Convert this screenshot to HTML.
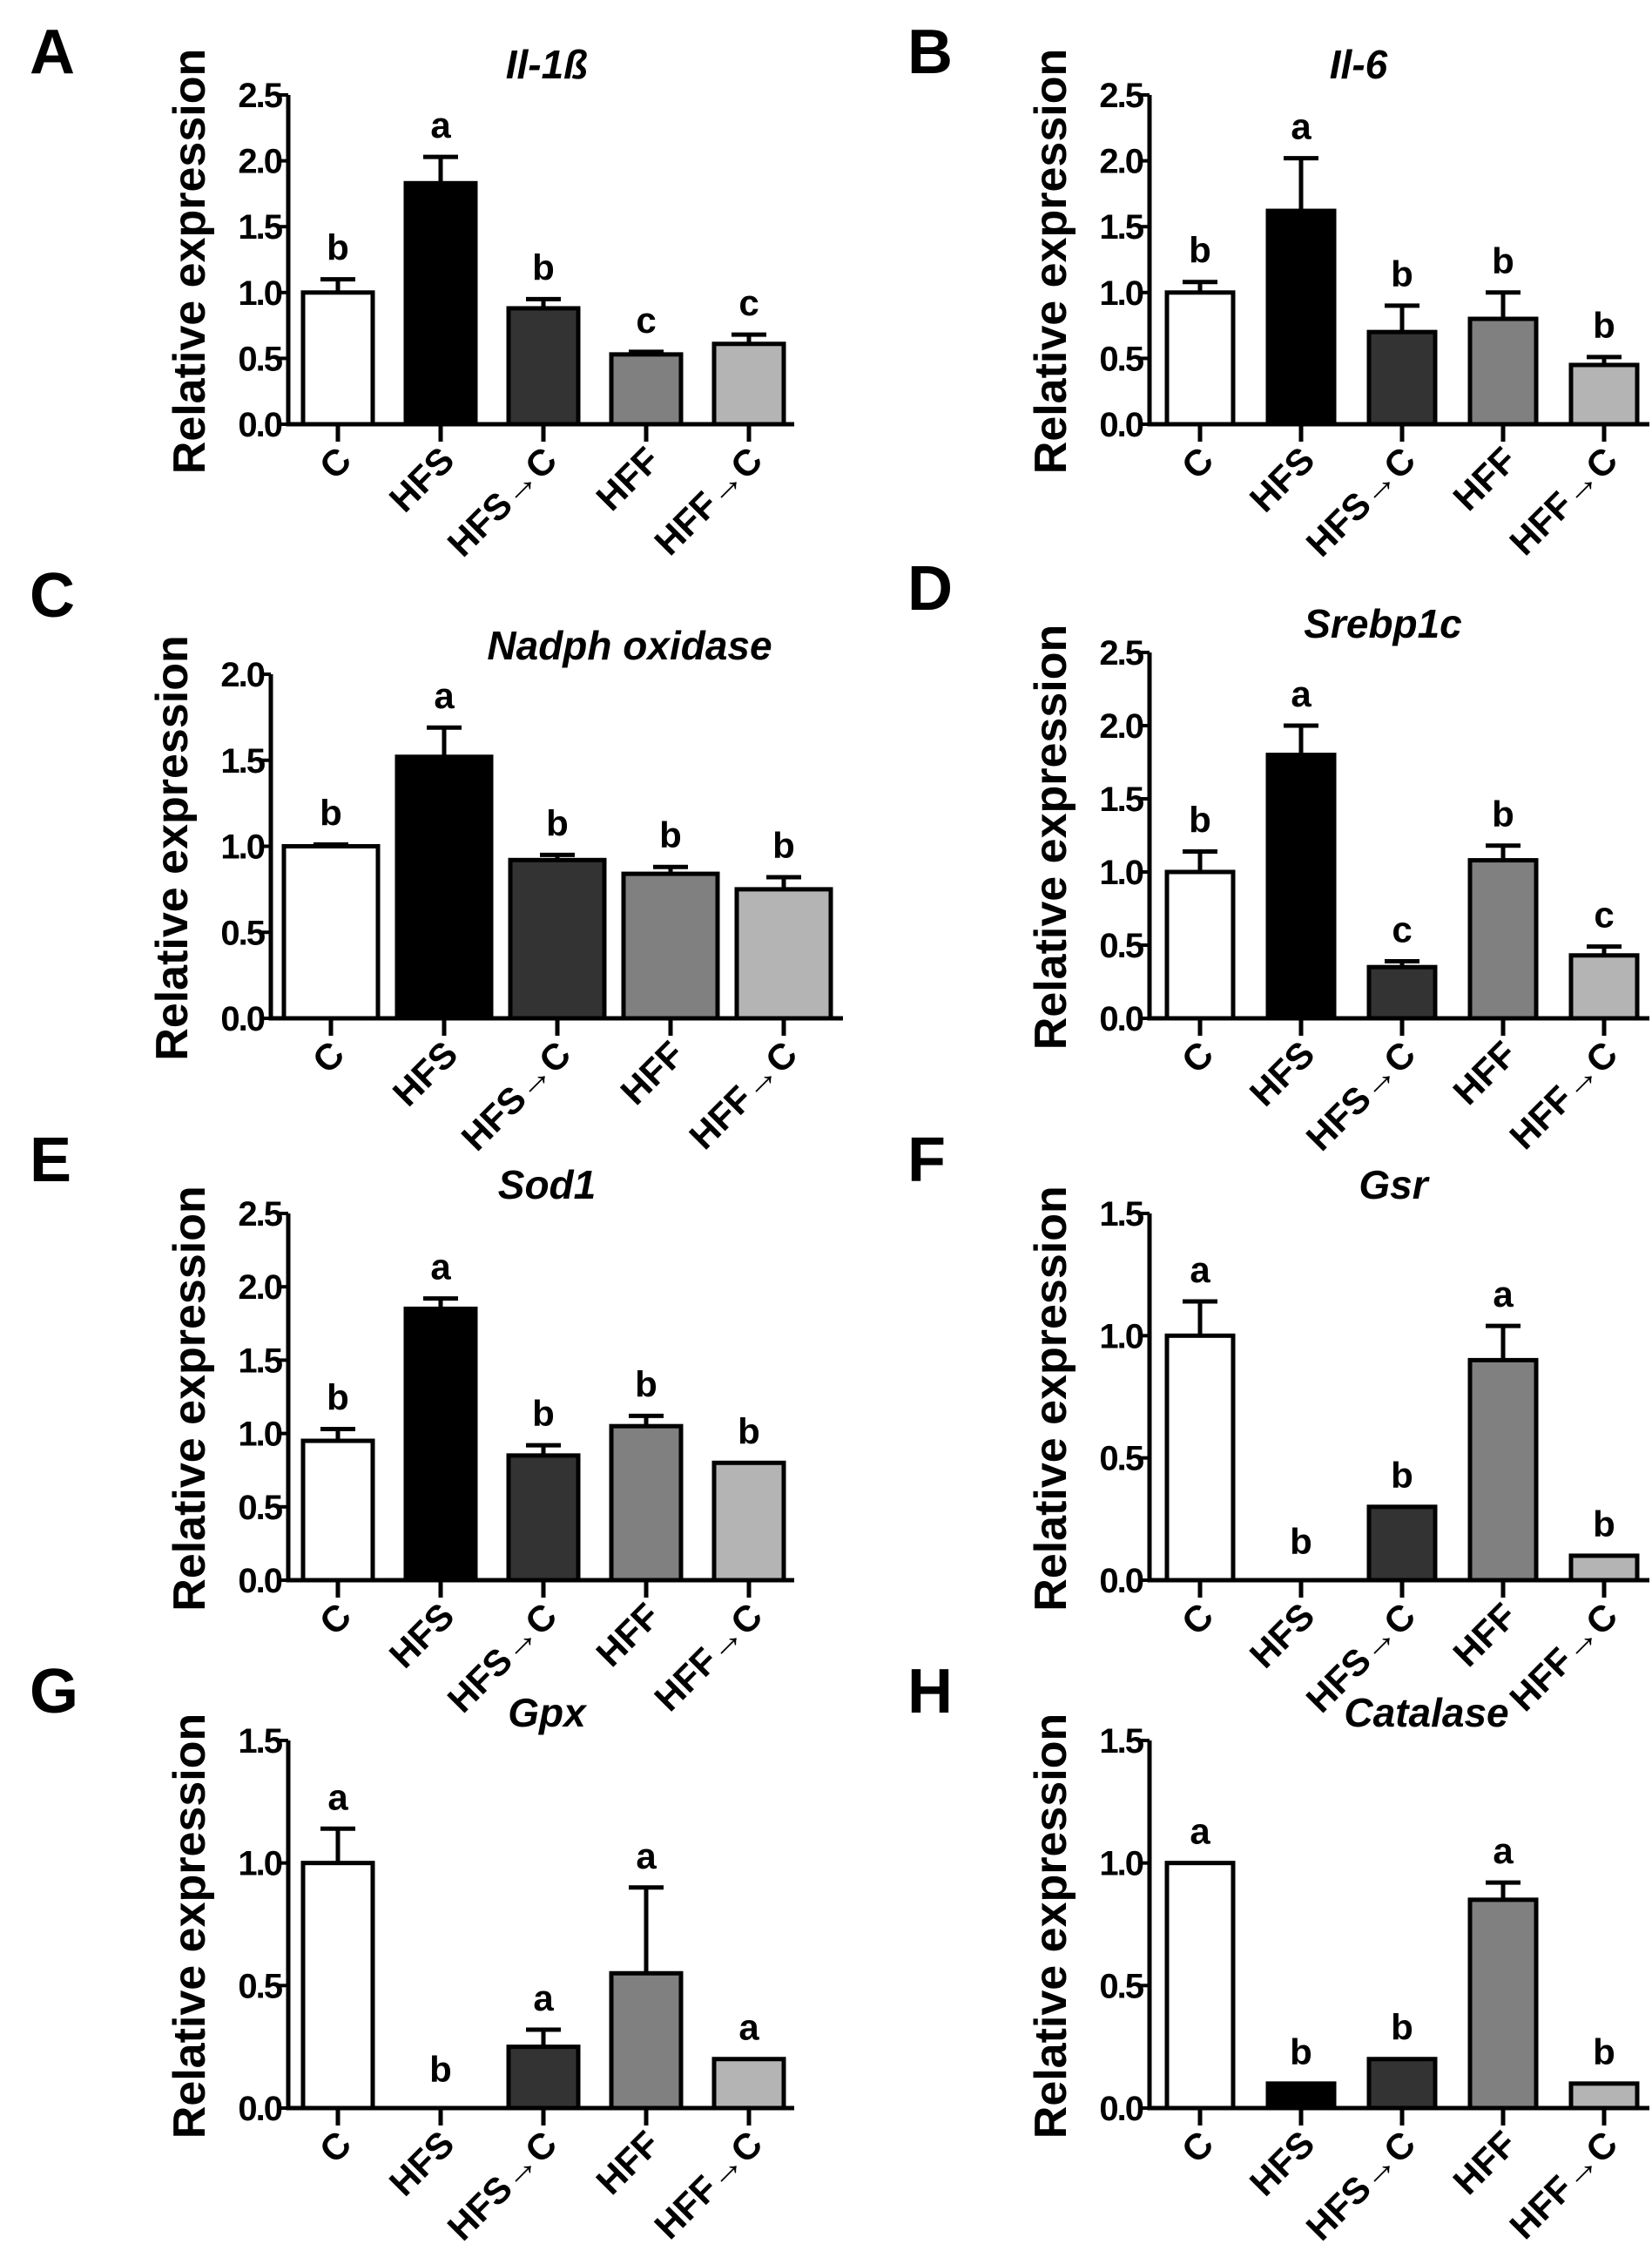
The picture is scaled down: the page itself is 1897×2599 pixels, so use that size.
<!DOCTYPE html>
<html><head><meta charset="utf-8"><style>
html,body{margin:0;padding:0;background:#fff}
svg{display:block}
text{font-family:"Liberation Sans",Arial,sans-serif;font-weight:bold;fill:#000}
</style></head><body>
<svg id="fig" width="1897" height="2599" viewBox="0 0 1897 2599" xmlns="http://www.w3.org/2000/svg"></svg>
<script>
const categories = ["C","HFS","HFS\u2192C","HFF","HFF\u2192C"];
const fills = ["#ffffff","#000000","#333333","#808080","#b4b4b4"];
const il1bValues = [1.0,1.83,0.88,0.53,0.61];
const il1bErr = [0.1,0.2,0.07,0.02,0.07];
const il1bLetters = ["b","a","b","c","c"];
const il6Values = [1.0,1.62,0.7,0.8,0.45];
const il6Err = [0.08,0.4,0.2,0.2,0.06];
const il6Letters = ["b","a","b","b","b"];
const nadphValues = [1.0,1.52,0.92,0.84,0.75];
const nadphErr = [0.01,0.17,0.03,0.04,0.07];
const nadphLetters = ["b","a","b","b","b"];
const srebpValues = [1.0,1.8,0.35,1.08,0.43];
const srebpErr = [0.14,0.2,0.04,0.1,0.06];
const srebpLetters = ["b","a","c","b","c"];
const sodValues = [0.95,1.85,0.85,1.05,0.8];
const sodErr = [0.08,0.07,0.07,0.07,0];
const sodLetters = ["b","a","b","b","b"];
const gsrValues = [1.0,0,0.3,0.9,0.1];
const gsrErr = [0.14,0,0,0.14,0];
const gsrLetters = ["a","b","b","a","b"];
const gpxValues = [1.0,0,0.25,0.55,0.2];
const gpxErr = [0.14,0,0.07,0.35,0];
const gpxLetters = ["a","b","a","a","a"];
const catValues = [1.0,0.1,0.2,0.85,0.1];
const catErr = [0,0,0,0.07,0];
const catLetters = ["a","b","b","a","b"];
const ticks25 = [0,0.5,1.0,1.5,2.0,2.5];
const ticks20 = [0,0.5,1.0,1.5,2.0];
const ticks15 = [0,0.5,1.0,1.5];

const NS="http://www.w3.org/2000/svg";
const svg=document.getElementById('fig');
function mk(tag,attrs,parent,txt){const e=document.createElementNS(NS,tag);for(const k in attrs)e.setAttribute(k,attrs[k]);if(txt!==undefined)e.textContent=txt;(parent||svg).appendChild(e);return e;}

function panel(o){
  const g=mk('g',{});
  
  
  const ymax=o.ticks[o.ticks.length-1];
  const y=v=>o.zero-(v/ymax)*(o.zero-o.top);
  const x=i=>o.first+i*o.pitch;
  const pl=mk('text',{x:o.lx,y:o.ly,'font-size':72},g,o.letter);
  
  
  const t=mk('text',{x:o.tx,y:o.ty,'font-size':46,'font-style':'italic','text-anchor':'middle'},g,o.title);
  
  
  const yl=mk('text',{x:0,y:0,'font-size':52,'text-anchor':'middle',transform:`translate(${o.ax-96},${(o.zero+o.top)/2+2}) rotate(-90)`},g,'Relative expression');
  
  
  o.values.forEach((v,i)=>{
    const cx=x(i);
    if(v>0){
      const b=mk('rect',{x:cx-o.bw/2,y:y(v),width:o.bw,height:o.zero-y(v),fill:fills[i],stroke:'#000','stroke-width':5},g);
      
      
    }
    const e=o.err[i];
    if(e>0){
      const eb=mk('path',{d:`M${cx},${y(v)} V${y(v+e)} M${cx-20},${y(v+e)} H${cx+20}`,stroke:'#000','stroke-width':5,fill:'none'},g);
      
      
    }
    const lt=mk('text',{x:cx,y:Math.min(y(v+e)-22,o.zero-30),'font-size':42,'text-anchor':'middle'},g,o.letters[i]);
    
    
    const tk=mk('line',{x1:cx,x2:cx,y1:o.zero,y2:o.zero+20,stroke:'#000','stroke-width':5},g);
    
    
    const xl=mk('text',{x:0,y:0,'font-size':42,'text-anchor':'end',transform:`translate(${cx+18},${o.zero+44}) rotate(-45)`},g,categories[i]);
    
    
  });
  const ya=mk('line',{x1:o.ax,x2:o.ax,y1:o.top,y2:o.zero+2.5,stroke:'#000','stroke-width':5},g);
  
  
  const xa=mk('line',{x1:o.ax-2.5,x2:o.right,y1:o.zero,y2:o.zero,stroke:'#000','stroke-width':5},g);
  
  
  o.ticks.forEach(tv=>{
    const tl=mk('line',{x1:o.ax-10,x2:o.ax,y1:y(tv),y2:y(tv),stroke:'#000','stroke-width':4},g);
    
    
    const tt=mk('text',{x:o.ax-8,y:y(tv)+14,'font-size':40,'letter-spacing':-2,'text-anchor':'end'},g,tv.toFixed(1));
    
    
  });
}
const L={ax:331,right:912,first:388,pitch:118,bw:80,lx:34,tx:628};
const R={ax:1320,right:1894,first:1378,pitch:116,bw:76,lx:1042,tx:1560};
panel({...L,id:'a',letter:'A',title:'Il-1\u00DF',ly:84,ty:90,zero:487,top:109,ticks:ticks25,values:il1bValues,err:il1bErr,letters:il1bLetters});
panel({...R,id:'b',letter:'B',title:'Il-6',ly:84,ty:90,zero:487,top:109,ticks:ticks25,values:il6Values,err:il6Err,letters:il6Letters});
panel({...L,ax:311,right:968,first:380,pitch:130,bw:108,id:'c',letter:'C',title:'Nadph oxidase',tx:723,ly:708,ty:757,zero:1169,top:774,ticks:ticks20,values:nadphValues,err:nadphErr,letters:nadphLetters});
panel({...R,id:'d',letter:'D',title:'Srebp1c',tx:1588,ly:700,ty:732,zero:1169,top:749,ticks:ticks25,values:srebpValues,err:srebpErr,letters:srebpLetters});
panel({...L,id:'e',letter:'E',title:'Sod1',ly:1356,ty:1376,zero:1814,top:1393,ticks:ticks25,values:sodValues,err:sodErr,letters:sodLetters});
panel({...R,id:'f',letter:'F',title:'Gsr',tx:1600,ly:1356,ty:1376,zero:1814,top:1393,ticks:ticks15,values:gsrValues,err:gsrErr,letters:gsrLetters});
panel({...L,id:'g',letter:'G',title:'Gpx',ly:1966,ty:1982,zero:2420,top:1998,ticks:ticks15,values:gpxValues,err:gpxErr,letters:gpxLetters});
panel({...R,id:'h',letter:'H',title:'Catalase',tx:1638,ly:1966,ty:1982,zero:2420,top:1998,ticks:ticks15,values:catValues,err:catErr,letters:catLetters});
</script>
</body></html>
